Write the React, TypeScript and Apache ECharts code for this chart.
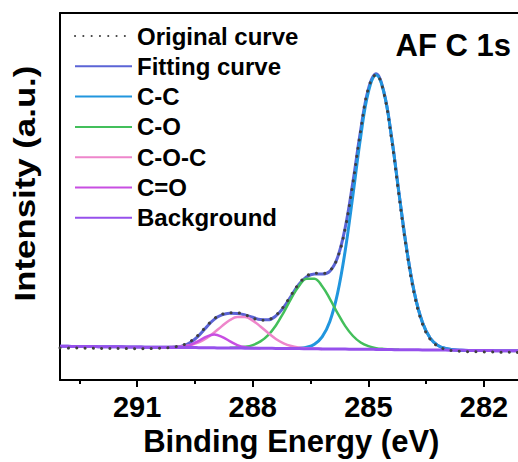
import React, { useEffect, useRef } from "react";
import * as echarts from "echarts";

const _ = null;

// Binding energy grid (eV)
const energy = [
  293.0, 292.8, 292.6, 292.4, 292.2, 292.0, 291.8, 291.6, 291.4, 291.2,
  291.0, 290.8, 290.6, 290.4, 290.2, 290.0, 289.8, 289.6, 289.4, 289.2,
  289.0, 288.8, 288.6, 288.4, 288.2, 288.0, 287.8, 287.6, 287.4, 287.2,
  287.0, 286.8, 286.6, 286.4, 286.2, 286.0, 285.8, 285.6, 285.4, 285.2,
  285.0, 284.8, 284.6, 284.4, 284.2, 284.0, 283.8, 283.6, 283.4, 283.2,
  283.0, 282.8, 282.6, 282.4, 282.2, 282.0, 281.8, 281.6, 281.4, 281.2, 281.0,
];

const originalCurve = [
  32.6, 32.4, 32.5, 32.3, 32.2, 32.1, 32.0, 32.1, 31.9, 31.9,
  31.8, 31.9, 31.9, 32.3, 32.8, 33.8, 35.7, 39.6, 46.2, 54.6,
  62.2, 66.6, 68.2, 68.1, 66.2, 63.0, 60.6, 61.2, 65.8, 74.5,
  86.5, 97.8, 105.5, 108.3, 108.0, 110.8, 124.0, 154.0, 200.0, 253.0,
  295.8, 309.5, 291.0, 244.0, 184.8, 128.8, 85.2, 57.0, 41.5, 34.3,
  31.2, 29.8, 29.2, 28.8, 28.7, 28.5, 28.4, 28.3, 28.3, 28.1, 28.0,
];

const fittingCurve = [
  34.3, 34.2, 34.1, 34.0, 34.0, 33.9, 33.8, 33.7, 33.7, 33.6,
  33.5, 33.4, 33.3, 33.4, 33.4, 33.7, 35.0, 38.6, 45.1, 53.7,
  61.6, 66.0, 67.7, 67.5, 66.1, 63.7, 61.3, 61.1, 65.0, 73.7,
  85.5, 97.1, 104.8, 107.6, 107.4, 110.4, 124.3, 154.9, 201.3, 253.5,
  295.2, 310.4, 292.3, 246.5, 187.4, 131.0, 87.1, 58.6, 42.7, 35.2,
  32.0, 30.8, 30.3, 30.1, 30.1, 30.0, 29.9, 29.8, 29.8, 29.7, 29.6,
];

const peakCC = [
  _, _, _, _, _, _, _, _, _, _,
  _, _, _, _, _, _, _, _, _, _,
  _, _, _, _, _, _, _, _, _, 32.0,
  32.0, 32.4, 33.4, 36.4, 43.8, 59.5, 87.9, 131.6, 187.9, 246.6,
  292.0, 309.1, 291.8, 246.3, 187.4, 131.0, 87.1, 58.6, 42.7, 35.2,
  32.0, 30.8, 30.3, 30.1, _, _, _, _, _, _, _,
];

const peakCO = [
  _, _, _, _, _, _, _, _, _, _,
  _, _, _, _, _, _, _, _, _, _,
  _, _, 32.8, 33.0, 33.7, 35.5, 39.2, 45.6, 55.4, 68.4,
  82.8, 95.5, 102.8, 102.7, 95.2, 82.4, 67.9, 54.7, 44.7, 38.1,
  34.4, 32.4, 31.5, 31.0, 30.8, _, _, _, _, _,
  _, _, _, _, _, _, _, _, _, _, _,
];

const peakCOC = [
  _, _, _, _, _, _, _, _, _, _,
  _, _, _, 33.3, 33.4, 33.5, 34.1, 35.6, 38.2, 42.4,
  48.2, 54.7, 60.6, 64.0, 63.9, 60.3, 54.4, 47.7, 41.7, 37.3,
  34.5, 33.0, 32.2, 31.9, 31.6, _, _, _, _, _,
  _, _, _, _, _, _, _, _, _, _,
  _, _, _, _, _, _, _, _, _, _, _,
];

const peakCeqO = [
  _, _, _, _, _, _, _, _, _, _,
  _, _, _, _, 33.2, 33.3, 33.9, 36.0, 39.8, 44.1,
  46.1, 43.9, 39.5, 35.5, 33.3, 32.5, 32.3, _, _, _,
  _, _, _, _, _, _, _, _, _, _,
  _, _, _, _, _, _, _, _, _, _,
  _, _, _, _, _, _, _, _, _, _, _,
];

const background = [
  34.3, 34.2, 34.1, 34.0, 34.0, 33.9, 33.8, 33.7, 33.7, 33.6,
  33.5, 33.4, 33.3, 33.3, 33.2, 33.1, 33.0, 33.0, 32.9, 32.8,
  32.7, 32.6, 32.6, 32.5, 32.4, 32.3, 32.3, 32.2, 32.1, 32.0,
  31.9, 31.9, 31.8, 31.7, 31.6, 31.5, 31.5, 31.4, 31.3, 31.2,
  31.2, 31.1, 31.0, 30.9, 30.8, 30.8, 30.7, 30.6, 30.5, 30.5,
  30.4, 30.3, 30.2, 30.1, 30.1, 30.0, 29.9, 29.8, 29.8, 29.7, 29.6,
];

const majorTicks = [291, 288, 285, 282];
const minorTicks = [292.5, 289.5, 286.5, 283.5];
const seriesNames = ["Original curve", "Fitting curve", "C-C", "C-O", "C-O-C", "C=O", "Background"];

const FONT = "'Liberation Sans', Arial, Helvetica, sans-serif";

function pairs(vals: (number | null)[]) {
  return energy
    .map((e, i) => [e, vals[i]])
    .filter((p) => p[1] !== null && p[1] !== undefined);
}

export default function App() {
  const ref = useRef<HTMLDivElement>(null);

  useEffect(() => {
    if (!ref.current) return;
    const chart = echarts.init(ref.current, undefined, { renderer: "svg" });
    const black = "#000";
    const xBase = { type: "value", min: 281, max: 293, inverse: true, gridIndex: 0, splitLine: { show: false } };
    const mk = (name: string, vals: (number | null)[], color: string, width: number, z: number, extra: any = {}) => ({
      name,
      type: "line",
      data: pairs(vals),
      symbol: "none",
      smooth: 0.4,
      z,
      lineStyle: { color, width, ...extra },
      itemStyle: { color },
    });

    chart.setOption({
      animation: false,
      backgroundColor: "#fff",
      grid: { left: 60, top: 13, width: 462.6, height: 372, show: false },
      xAxis: [
        {
          ...xBase,
          position: "bottom",
          axisLine: { show: true, onZero: false, lineStyle: { color: black, width: 2 } },
          axisTick: { show: true, customValues: majorTicks, length: 7, lineStyle: { color: black, width: 2 } },
          axisLabel: {
            show: true,
            customValues: majorTicks,
            fontSize: 29,
            fontWeight: "bold",
            fontFamily: FONT,
            color: black,
            margin: 12,
            lineHeight: 29,
            formatter: (v: number) => String(v),
          },
          name: "Binding Energy (eV)",
          nameLocation: "middle",
          nameGap: 42,
          nameTextStyle: { fontSize: 31, fontWeight: "bold", fontFamily: FONT, color: black, lineHeight: 31 },
        },
        {
          ...xBase,
          position: "bottom",
          axisLine: { show: false, onZero: false },
          axisTick: { show: true, customValues: minorTicks, length: 4, lineStyle: { color: black, width: 2 } },
          axisLabel: { show: false },
        },
        {
          ...xBase,
          position: "top",
          axisLine: { show: true, onZero: false, lineStyle: { color: black, width: 2 } },
          axisTick: { show: false },
          axisLabel: { show: false },
        },
      ],
      yAxis: {
        type: "value",
        min: 0,
        max: 372,
        axisLine: { show: true, onZero: false, lineStyle: { color: black, width: 2 } },
        axisTick: { show: false },
        axisLabel: { show: false },
        splitLine: { show: false },
      },
      legend: {
        data: seriesNames,
        orient: "vertical",
        left: 74,
        top: 24,
        padding: 0,
        itemWidth: 57,
        itemHeight: 14,
        itemGap: 6.3,
        selectedMode: false,
        itemStyle: { opacity: 0, borderWidth: 0 },
        textStyle: { fontSize: 24, fontWeight: "bold", fontFamily: FONT, color: black, lineHeight: 24 },
      },
      graphic: [
        {
          type: "text",
          x: 24.6,
          y: 183.5,
          rotation: Math.PI / 2,
          scaleX: 1.16,
          style: {
            text: "Intensity (a.u.)",
            fontSize: 30,
            fontWeight: "bold",
            fontFamily: FONT,
            fill: black,
            align: "center",
            verticalAlign: "middle",
          },
        },
        {
          type: "text",
          x: 511,
          y: 45,
          style: {
            text: "AF C 1s",
            fontSize: 31,
            fontWeight: "bold",
            fontFamily: FONT,
            fill: black,
            align: "right",
            verticalAlign: "middle",
          },
        },
      ],
      series: [
        mk("Original curve", originalCurve, "#404040", 3, 6, { type: [0.1, 8.2], cap: "round" }),
        mk("Fitting curve", fittingCurve, "#5b64d6", 3, 2),
        mk("C-C", peakCC, "#2196de", 3, 3),
        mk("C-O", peakCO, "#43bf5b", 2.5, 3),
        mk("C-O-C", peakCOC, "#ee86cb", 2.5, 3),
        mk("C=O", peakCeqO, "#c84ee2", 2.5, 3),
        mk("Background", background, "#9650ec", 3, 4),
      ],
    });
    return () => chart.dispose();
  }, []);

  return <div ref={ref} style={{ position: "fixed", left: 0, top: 0, width: 540, height: 462 }} />;
}
